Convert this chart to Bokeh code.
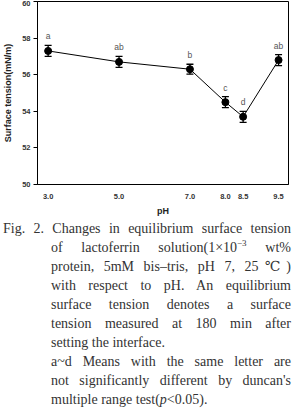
from bokeh.plotting import figure
from bokeh.models import ColumnDataSource, Whisker, TeeHead, FixedTicker, Range1d, Div
from bokeh.layouts import column
from bokeh.core.properties import value
from bokeh.embed import file_html
from bokeh.resources import INLINE

# ---- data ----
ph = [3.0, 5.0, 7.0, 8.0, 8.5, 9.5]
tension = [57.3, 56.7, 56.3, 54.5, 53.7, 56.8]
err = [0.30, 0.30, 0.27, 0.30, 0.30, 0.30]
letters = ["a", "ab", "b", "c", "d", "ab"]
x_tick_labels = ["3.0", "5.0", "7.0", "8.0", "8.5", "9.5"]
y_ticks = [50, 52, 54, 56, 58, 60]

src = ColumnDataSource(dict(
    x=ph, y=tension,
    upper=[t + e for t, e in zip(tension, err)],
    lower=[t - e for t, e in zip(tension, err)],
    lab=letters,
))

p = figure(width=292, height=218, output_backend="svg", toolbar_location=None,
           x_range=Range1d(2.70, 9.78), y_range=Range1d(50, 60),
           min_border_left=35, min_border_right=4, min_border_top=1, min_border_bottom=33)

p.xgrid.visible = False
p.ygrid.visible = False
p.outline_line_color = "black"
p.outline_line_width = 1
p.background_fill_color = "white"
p.border_fill_color = "white"

p.line("x", "y", source=src, line_color="black", line_width=1)
w = Whisker(base="x", upper="upper", lower="lower", source=src,
            line_color="black", line_width=1.3,
            upper_head=TeeHead(size=7, line_color="black", line_width=1.3),
            lower_head=TeeHead(size=7, line_color="black", line_width=1.3))
p.add_layout(w)
p.scatter("x", "y", source=src, size=7, color="black")
p.text(x="x", y="upper", text="lab", source=src, text_align="center",
       text_baseline="bottom", y_offset=-4, text_font_size="8.5px",
       text_color="#555555", text_font=value("Liberation Sans"))

# axes
p.xaxis.ticker = FixedTicker(ticks=ph)
p.xaxis.major_label_overrides = {v: s for v, s in zip(ph, x_tick_labels)}
p.xaxis.minor_tick_line_color = None
p.xaxis.major_tick_in = 0
p.xaxis.major_tick_out = 0
p.xaxis.major_label_standoff = 9
p.xaxis.axis_label = "pH"
p.xaxis.axis_label_standoff = 4

p.yaxis.ticker = FixedTicker(ticks=y_ticks)
p.yaxis.major_tick_in = 0
p.yaxis.major_tick_out = 4
p.yaxis.minor_tick_line_color = None
p.yaxis.major_label_standoff = 3
p.yaxis.axis_label = "Surface tension(mN/m)"
p.yaxis.axis_label_standoff = 6

for ax in (p.xaxis[0], p.yaxis[0]):
    ax.axis_line_color = "black"
    ax.axis_line_width = 1
    ax.major_tick_line_color = "black"
    ax.major_label_text_font = "Liberation Sans"
    ax.major_label_text_font_style = "bold"
    ax.major_label_text_font_size = "7.5px"
    ax.major_label_text_color = "#333333"
    ax.axis_label_text_font = "Liberation Sans"
    ax.axis_label_text_font_style = "bold"
    ax.axis_label_text_font_size = "9px"
    ax.axis_label_text_color = "#222222"

# ---- caption ----
caption_lines = [
    ("first", "Fig. 2. Changes in equilibrium surface tension"),
    ("just", "of lactoferrin solution(1&times;10<sup>&minus;3</sup> wt%"),
    ("just", "protein, 5mM bis&ndash;tris, pH 7, 25&#8451;)"),
    ("just", "with respect to pH. An equilibrium"),
    ("just", "surface tension denotes a surface"),
    ("just", "tension measured at 180 min after"),
    ("left", "setting the interface."),
    ("just", "a~d Means with the same letter are"),
    ("just", "not significantly different by duncan's"),
    ("left", "multiple range test(<i>p</i>&lt;0.05)."),
]
rows = []
for kind, txt in caption_lines:
    pad = 3 if kind == "first" else 51
    align = "left" if kind == "left" else "justify"
    rows.append(
        f'<div style="box-sizing:border-box;padding-left:{pad}px;width:291px;text-align:{align};'
        f'text-align-last:{align};height:19px;line-height:19px;overflow:visible;">{txt}</div>'
    )
html = ('<div style="font-family:\'Liberation Serif\',\'DejaVu Serif\',serif;'
        'font-size:14px;color:#333333;padding-top:1px;">'
        + "".join(rows).replace("<sup>", '<sup style="font-size:9px;line-height:0;vertical-align:6px;">')
        + '</div>')
div = Div(text=html, width=292, height=192, margin=0)

layout = column(p, div, spacing=0)
open("out.html", "w").write(file_html(layout, INLINE))
